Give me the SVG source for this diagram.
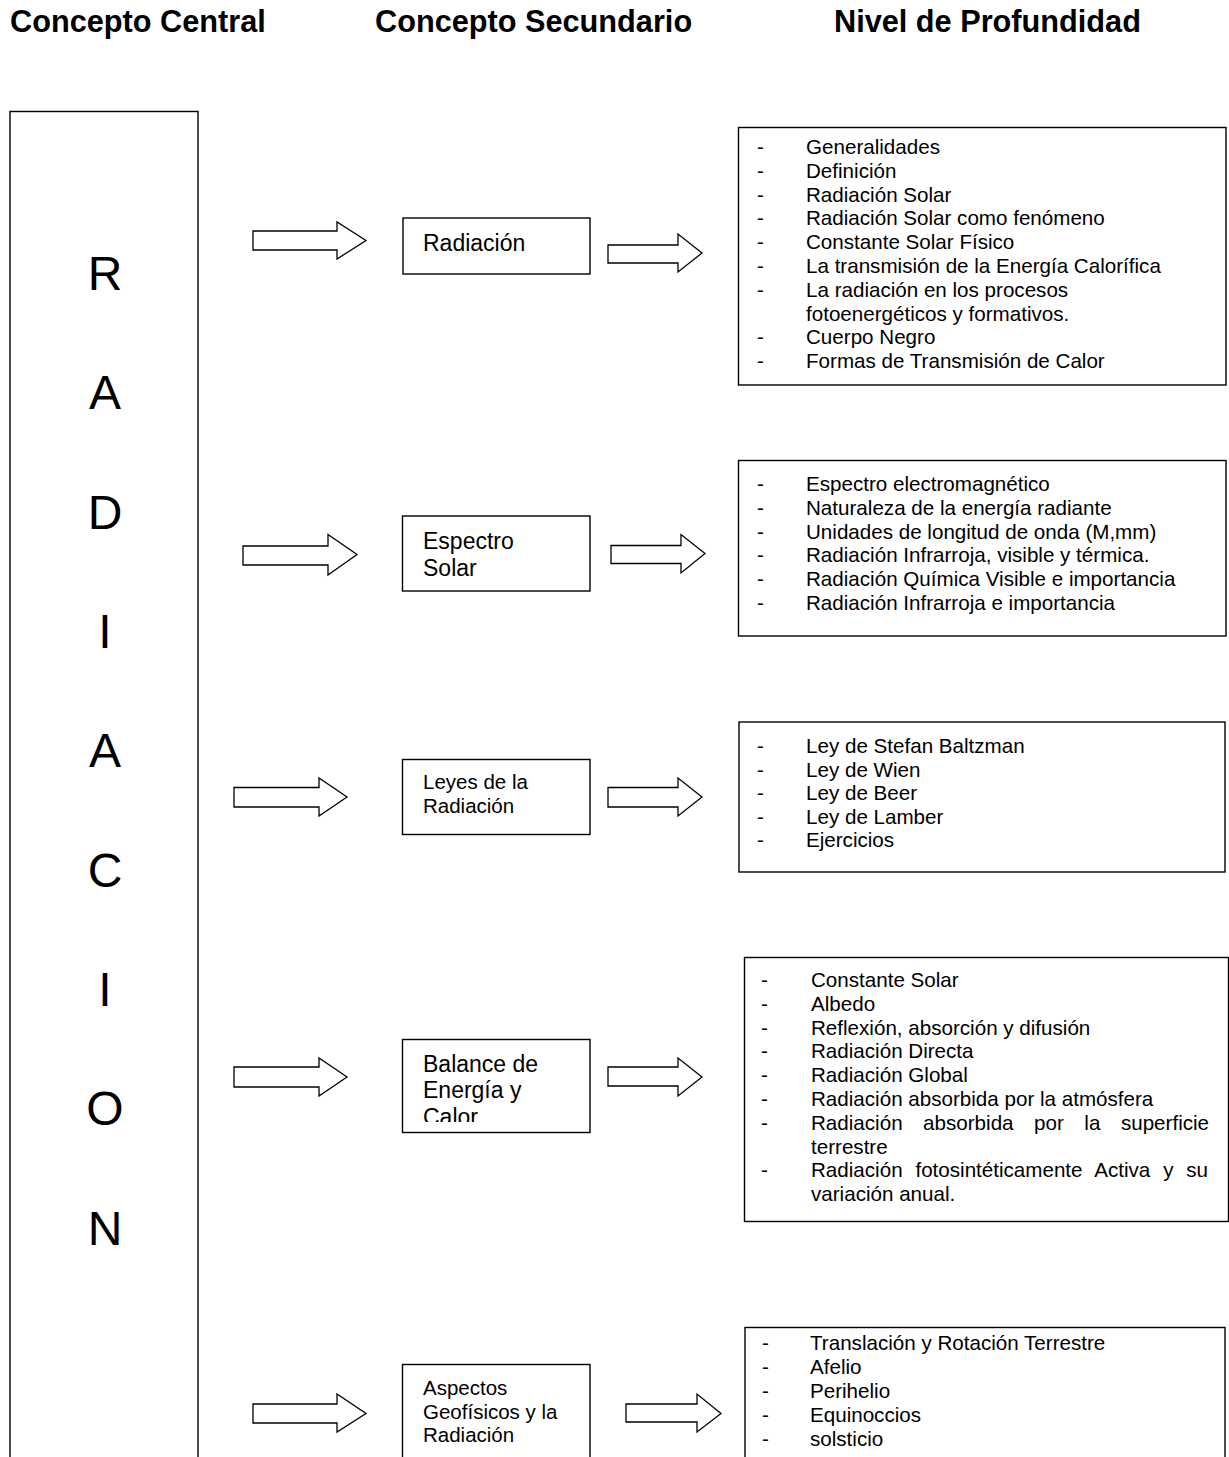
<svg xmlns="http://www.w3.org/2000/svg" width="1229" height="1457" viewBox="0 0 1229 1457">
  <style>
    .title { font-family: "Liberation Sans", Arial, sans-serif; font-weight: bold; font-size: 30.7px; fill: #000; }
    .big { font-family: "Liberation Sans", Arial, sans-serif; font-size: 48px; fill: #000; text-anchor: middle; }
    .box { fill: #fff; stroke: #000; stroke-width: 1.4; }
    .lbl { font-family: "Liberation Sans", Arial, sans-serif; font-size: 23px; fill: #000; }
    .lbs { font-family: "Liberation Sans", Arial, sans-serif; font-size: 20.5px; fill: #000; }
    .li { font-family: "Liberation Sans", Arial, sans-serif; font-size: 20.6px; fill: #000; }
    .arrow { fill: #fff; stroke: #000; stroke-width: 1.3; stroke-linejoin: miter; }
  </style>
  <defs>
    <clipPath id="clip-balance">
      <rect x="402" y="1039" width="188" height="83"/>
    </clipPath>
  </defs>

  <rect width="1229" height="1457" fill="#fff"/>

  <!-- column headings -->
  <g id="headings">
    <text class="title" x="10" y="32">Concepto Central</text>
    <text class="title" x="375" y="32">Concepto Secundario</text>
    <text class="title" x="834" y="32">Nivel de Profundidad</text>
  </g>

  <!-- central concept: vertical RADIACION -->
  <g id="central">
    <rect class="box" x="10" y="111.5" width="188" height="1360"/>
    <text class="big" x="105" y="290">R</text>
    <text class="big" x="105" y="409">A</text>
    <text class="big" x="105" y="528.5">D</text>
    <text class="big" x="105" y="648">I</text>
    <text class="big" x="105" y="767">A</text>
    <text class="big" x="105" y="886.5">C</text>
    <text class="big" x="105" y="1006">I</text>
    <text class="big" x="105" y="1125">O</text>
    <text class="big" x="105" y="1244.5">N</text>
  </g>

  <!-- block arrows -->
  <g id="connectors">
    <polygon class="arrow" points="253,231 337,231 337,222 366,240.5 337,259 337,250 253,250"/>
    <polygon class="arrow" points="608,245 678,245 678,234 702,253 678,272 678,263 608,263"/>
    <polygon class="arrow" points="243,546 328,546 328,534.5 357,554.5 328,575 328,565 243,565"/>
    <polygon class="arrow" points="611,545.5 681,545.5 681,534.5 705,553.5 681,573 681,563.5 611,563.5"/>
    <polygon class="arrow" points="234,787.5 319,787.5 319,778 347,797 319,816 319,807 234,807"/>
    <polygon class="arrow" points="608,787.5 678,787.5 678,778 702,797 678,816 678,807 608,807"/>
    <polygon class="arrow" points="234,1067 319,1067 319,1058 347,1077 319,1096 319,1087 234,1087"/>
    <polygon class="arrow" points="608,1067 678,1067 678,1058 702,1077 678,1096 678,1086 608,1086"/>
    <polygon class="arrow" points="253,1404 337,1404 337,1394 366,1413.5 337,1432 337,1423 253,1423"/>
    <polygon class="arrow" points="626,1404 697,1404 697,1394 721,1413.5 697,1432 697,1422 626,1422"/>
  </g>

  <!-- secondary concepts -->
  <g id="sec-radiacion">
    <rect class="box" x="403" y="218" width="187" height="56"/>
    <text class="lbl" x="423" y="251">Radiación</text>
  </g>
  <g id="sec-espectro">
    <rect class="box" x="402.5" y="516" width="187.5" height="75"/>
    <text class="lbl" x="423" y="549">Espectro</text>
    <text class="lbl" x="423" y="576">Solar</text>
  </g>
  <g id="sec-leyes">
    <rect class="box" x="402.5" y="759.5" width="187.5" height="75"/>
    <text class="lbs" x="423" y="789">Leyes de la</text>
    <text class="lbs" x="423" y="812.5">Radiación</text>
  </g>
  <g id="sec-balance">
    <rect class="box" x="402.5" y="1039.5" width="187.5" height="93"/>
    <g clip-path="url(#clip-balance)">
      <text class="lbl" x="423" y="1072">Balance de</text>
      <text class="lbl" x="423" y="1098">Energía y</text>
      <text class="lbl" x="423" y="1124.5">Calor</text>
    </g>
  </g>
  <g id="sec-aspectos">
    <rect class="box" x="402.5" y="1364.5" width="187.5" height="110"/>
    <text class="lbs" x="423" y="1395">Aspectos</text>
    <text class="lbs" x="423" y="1419">Geofísicos y la</text>
    <text class="lbs" x="423" y="1442">Radiación</text>
  </g>

  <!-- depth level lists -->
  <g id="lvl-radiacion">
    <rect class="box" x="738.5" y="127.5" width="487.5" height="257.5"/>
    <g class="li">
      <text x="757" y="154">-</text><text x="806" y="154">Generalidades</text>
      <text x="757" y="177.8">-</text><text x="806" y="177.8">Definición</text>
      <text x="757" y="201.6">-</text><text x="806" y="201.6">Radiación Solar</text>
      <text x="757" y="225.4">-</text><text x="806" y="225.4">Radiación Solar como fenómeno</text>
      <text x="757" y="249.2">-</text><text x="806" y="249.2">Constante Solar Físico</text>
      <text x="757" y="273">-</text><text x="806" y="273">La transmisión de la Energía Calorífica</text>
      <text x="757" y="296.8">-</text><text x="806" y="296.8">La radiación en los procesos</text>
      <text x="806" y="320.6">fotoenergéticos y formativos.</text>
      <text x="757" y="344.4">-</text><text x="806" y="344.4">Cuerpo Negro</text>
      <text x="757" y="368.2">-</text><text x="806" y="368.2">Formas de Transmisión de Calor</text>
    </g>
  </g>
  <g id="lvl-espectro">
    <rect class="box" x="738.5" y="460.5" width="487.5" height="175.5"/>
    <g class="li">
      <text x="757" y="491">-</text><text x="806" y="491">Espectro electromagnético</text>
      <text x="757" y="514.8">-</text><text x="806" y="514.8">Naturaleza de la energía radiante</text>
      <text x="757" y="538.6">-</text><text x="806" y="538.6">Unidades de longitud de onda (M,mm)</text>
      <text x="757" y="562.4">-</text><text x="806" y="562.4">Radiación Infrarroja, visible y térmica.</text>
      <text x="757" y="586.2">-</text><text x="806" y="586.2">Radiación Química Visible e importancia</text>
      <text x="757" y="610">-</text><text x="806" y="610">Radiación Infrarroja e importancia</text>
    </g>
  </g>
  <g id="lvl-leyes">
    <rect class="box" x="739" y="722" width="486" height="150"/>
    <g class="li">
      <text x="757" y="753">-</text><text x="806" y="753">Ley de Stefan Baltzman</text>
      <text x="757" y="776.5">-</text><text x="806" y="776.5">Ley de Wien</text>
      <text x="757" y="800">-</text><text x="806" y="800">Ley de Beer</text>
      <text x="757" y="823.5">-</text><text x="806" y="823.5">Ley de Lamber</text>
      <text x="757" y="847">-</text><text x="806" y="847">Ejercicios</text>
    </g>
  </g>
  <g id="lvl-balance">
    <rect class="box" x="744.5" y="957.5" width="484" height="264"/>
    <g class="li">
      <text x="761" y="987">-</text><text x="811" y="987">Constante Solar</text>
      <text x="761" y="1010.8">-</text><text x="811" y="1010.8">Albedo</text>
      <text x="761" y="1034.6">-</text><text x="811" y="1034.6">Reflexión, absorción y difusión</text>
      <text x="761" y="1058.4">-</text><text x="811" y="1058.4">Radiación Directa</text>
      <text x="761" y="1082.2">-</text><text x="811" y="1082.2">Radiación Global</text>
      <text x="761" y="1106">-</text><text x="811" y="1106">Radiación absorbida por la atmósfera</text>
      <text x="761" y="1129.8">-</text><text x="811" y="1129.8" word-spacing="14.8">Radiación absorbida por la superficie</text>
      <text x="811" y="1153.6">terrestre</text>
      <text x="761" y="1177.4">-</text><text x="811" y="1177.4" word-spacing="7.1">Radiación fotosintéticamente Activa y su</text>
      <text x="811" y="1201.2">variación anual.</text>
    </g>
  </g>
  <g id="lvl-aspectos">
    <rect class="box" x="745" y="1327.5" width="480" height="140"/>
    <g class="li">
      <text x="762" y="1350">-</text><text x="810" y="1350">Translación y Rotación Terrestre</text>
      <text x="762" y="1374">-</text><text x="810" y="1374">Afelio</text>
      <text x="762" y="1398">-</text><text x="810" y="1398">Perihelio</text>
      <text x="762" y="1422">-</text><text x="810" y="1422">Equinoccios</text>
      <text x="762" y="1446">-</text><text x="810" y="1446">solsticio</text>
    </g>
  </g>
</svg>
